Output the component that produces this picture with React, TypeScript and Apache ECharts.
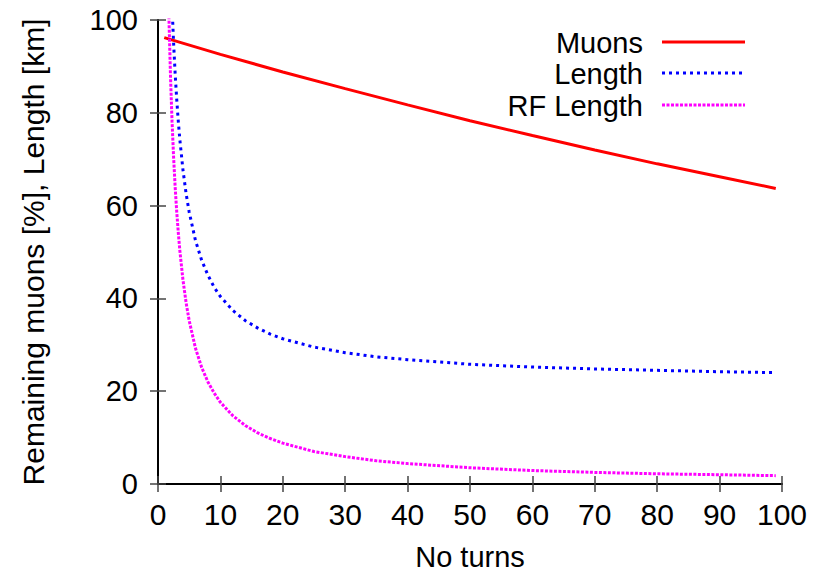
import React, { useEffect, useRef } from "react";
import * as echarts from "echarts";

const muonTurns = [1, 10, 20, 30, 40, 50, 60, 70, 80, 90, 99];
const muonValues = [96.2, 92.6, 88.8, 85.2, 81.7, 78.3, 75.1, 72.0, 69.0, 66.2, 63.7];

const lengthTurns = [2, 2.25, 2.5, 2.75, 3, 3.25, 3.5, 4, 4.5, 5, 6, 7, 8, 9, 10, 12, 14, 16, 18, 20, 25, 30, 35, 40, 50, 60, 70, 80, 90, 99];
const lengthValues = [113.2, 103.1, 95.0, 88.4, 82.9, 78.2, 74.2, 67.7, 62.6, 58.6, 52.5, 48.2, 45.0, 42.4, 40.4, 37.4, 35.2, 33.6, 32.3, 31.3, 29.5, 28.3, 27.4, 26.8, 25.8, 25.2, 24.8, 24.5, 24.2, 24.0];

const rfTurns = [1.5, 1.75, 2, 2.25, 2.5, 2.75, 3, 3.25, 3.5, 4, 4.5, 5, 6, 7, 8, 9, 10, 12, 14, 16, 18, 20, 25, 30, 35, 40, 50, 60, 70, 80, 90, 99];
const rfValues = [117.3, 100.6, 88.0, 78.2, 70.4, 64.0, 58.7, 54.2, 50.3, 44.0, 39.1, 35.2, 29.3, 25.1, 22.0, 19.6, 17.6, 14.7, 12.6, 11.0, 9.8, 8.8, 7.0, 5.9, 5.0, 4.4, 3.5, 2.9, 2.5, 2.2, 2.0, 1.8];

const seriesNames = ["Muons", "Length", "RF Length"];
const seriesColors = ["#ff0000", "#0000ff", "#ff00ff"];
const seriesDash: (number[] | null)[] = [null, [3, 4], [3, 1.5]];
const xTitle = "No turns";
const yTitle = "Remaining muons [%], Length [km]";

const FONT = "'Liberation Sans', Arial, Helvetica, sans-serif";
const FS = 30;

function pairs(xs: number[], ys: number[]) {
  return xs.map((x, i) => [x, ys[i]]);
}

export default function App() {
  const ref = useRef<HTMLDivElement>(null);
  useEffect(() => {
    if (!ref.current) return;
    const chart = echarts.init(ref.current, undefined, { renderer: "svg" });
    const axisLine = { show: true, lineStyle: { color: "#000", width: 2 } };
    const tick = { show: true, inside: true, length: 8, lineStyle: { color: "#444", width: 1.5 } };
    const legendRows = [42, 73, 105];
    const legendGraphics: any[] = [];
    seriesNames.forEach((name, i) => {
      legendGraphics.push({
        type: "text",
        x: 643,
        y: legendRows[i] + 1,
        style: {
          text: name,
          fill: "#000",
          font: `${FS - 1}px ${FONT}`,
          textAlign: "right",
          textVerticalAlign: "middle",
        },
      });
      legendGraphics.push({
        type: "line",
        shape: { x1: 662, y1: legendRows[i], x2: 745, y2: legendRows[i] },
        style: {
          stroke: seriesColors[i],
          lineWidth: 3,
          lineDash: seriesDash[i] || undefined,
          lineCap: "butt",
        },
      });
    });
    const series = [
      { data: pairs(muonTurns, muonValues) },
      { data: pairs(lengthTurns, lengthValues) },
      { data: pairs(rfTurns, rfValues) },
    ].map((s, i) => ({
      name: seriesNames[i],
      type: "line",
      data: s.data,
      showSymbol: false,
      symbol: "none",
      clip: true,
      lineStyle: {
        color: seriesColors[i],
        width: 3,
        type: seriesDash[i] || "solid",
        cap: "butt",
      },
      itemStyle: { color: seriesColors[i] },
    }));
    chart.setOption({
      animation: false,
      backgroundColor: "#fff",
      textStyle: { fontFamily: FONT },
      grid: { left: 158, right: 45, top: 20, bottom: 91, containLabel: false, outerBoundsMode: "none" },
      graphic: legendGraphics,
      xAxis: [
        {
          type: "value",
          min: 0,
          max: 100,
          interval: 10,
          name: xTitle,
          nameLocation: "middle",
          nameGap: 58,
          nameTextStyle: { fontSize: FS - 1, color: "#000", fontFamily: FONT },
          axisLine,
          axisTick: tick,
          splitLine: { show: false },
          axisLabel: { fontSize: FS, color: "#000", margin: 15, fontFamily: FONT },
        },
        {
          type: "value",
          position: "top",
          min: 0,
          max: 100,
          interval: 10,
          axisLine,
          axisTick: tick,
          splitLine: { show: false },
          axisLabel: { show: false },
        },
      ],
      yAxis: [
        {
          type: "value",
          min: 0,
          max: 100,
          interval: 20,
          name: yTitle,
          nameLocation: "middle",
          nameGap: 110,
          nameTextStyle: { fontSize: FS, color: "#000", fontFamily: FONT },
          axisLine,
          axisTick: tick,
          splitLine: { show: false },
          axisLabel: { fontSize: FS - 1, color: "#000", margin: 20, fontFamily: FONT },
        },
        {
          type: "value",
          position: "right",
          min: 0,
          max: 100,
          interval: 20,
          axisLine,
          axisTick: tick,
          splitLine: { show: false },
          axisLabel: { show: false },
        },
      ],
      series,
    });
    return () => chart.dispose();
  }, []);
  return (
    <div
      ref={ref}
      style={{ position: "fixed", left: 0, top: 0, width: 827, height: 575, background: "#fff" }}
    />
  );
}
